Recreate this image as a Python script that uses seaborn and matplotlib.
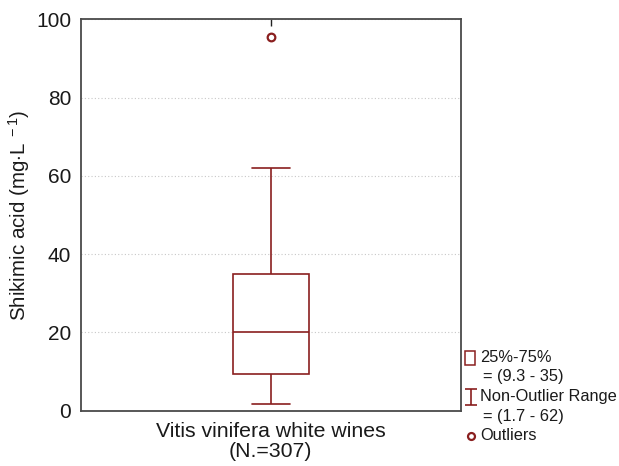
import numpy as np
import pandas as pd
import seaborn as sns
import matplotlib.pyplot as plt
from matplotlib.lines import Line2D
from matplotlib.patches import Rectangle
from matplotlib.path import Path

# Summary statistics of shikimic acid in white wines (mg/L)
group = "Vitis vinifera white wines\n(N.=307)"
whisker_low = 1.7
q1 = 9.3
median = 20.0
q3 = 35.0
whisker_high = 62.0
outliers = [95.5]

# Minimal sample reproducing the summary: sorted values whose
# quartiles fall exactly on q1 / median / q3
values = [whisker_low, q1, q1, median, median, q3, q3, whisker_high] + outliers
df = pd.DataFrame({"group": [group] * len(values), "value": values})

sns.set_theme(style="white")
plt.rcParams["font.family"] = ["Liberation Sans", "DejaVu Sans"]
plt.rcParams["mathtext.fontset"] = "custom"
plt.rcParams["mathtext.rm"] = "Liberation Sans"
plt.rcParams["mathtext.it"] = "Liberation Sans"

RED = "#8a1f1f"
FRAME = "#4a4a4a"
TEXT = "#1a1a1a"

fig = plt.figure(figsize=(6.19, 4.66), dpi=100)
ax = fig.add_axes([0.1309, 0.1187, 0.6134, 0.8399])

sns.boxplot(
    data=df, x="group", y="value", ax=ax, width=0.2,
    color="white", linecolor=RED, linewidth=1.2,
    whis=1.5,
    flierprops=dict(marker="o", markersize=5.5, markerfacecolor="none",
                    markeredgecolor=RED, markeredgewidth=1.6),
)

ax.set_xlim(-0.5, 0.5)
ax.set_ylim(0, 100)
ax.set_yticks([0, 20, 40, 60, 80, 100])
ax.yaxis.grid(True, linestyle=(0, (1, 2)), color="#c8c8c8", linewidth=0.8)
ax.set_axisbelow(True)

ax.set_xlabel("")
ax.set_ylabel(r"Shikimic acid (mg$\cdot$L$^{\ -1}$)", fontsize=14.8,
              labelpad=3, color=TEXT)
ax.tick_params(axis="y", length=0, labelsize=15, pad=7, labelcolor=TEXT)
ax.tick_params(axis="x", which="major", bottom=False, top=True,
               labelbottom=True, labeltop=False, direction="in", length=5,
               width=1.0, color="#222222", labelsize=15.3, pad=8,
               labelcolor=TEXT)
for lab in ax.get_xticklabels():
    lab.set_multialignment("center")
    lab.set_linespacing(1.1)

for s in ax.spines.values():
    s.set_visible(True)
    s.set_color(FRAME)
    s.set_linewidth(1.3)

# Key describing the box elements, placed to the right of the plot
W, H = fig.get_size_inches() * fig.dpi

def fx(px):
    return px / W

def fy(py):
    return 1 - py / H

ibeam = Path([(-0.5, -0.7), (0.5, -0.7), (0, -0.7), (0, 0.7), (-0.5, 0.7), (0.5, 0.7)],
             [Path.MOVETO, Path.LINETO, Path.MOVETO, Path.LINETO,
              Path.MOVETO, Path.LINETO])

fig.add_artist(Rectangle((fx(465), fy(365)), fx(10), 14 / H,
                         facecolor="none", edgecolor=RED, linewidth=1.1))
fig.add_artist(Line2D([fx(471)], [fy(397)], marker=ibeam, markersize=12,
                      markerfacecolor="none", markeredgecolor=RED,
                      markeredgewidth=1.2))
fig.add_artist(Line2D([fx(470.5)], [fy(436)], marker="o", markersize=5,
                      markerfacecolor="none", markeredgecolor=RED,
                      markeredgewidth=1.6))

key_font = dict(fontsize=11.8, va="center", ha="left", color=TEXT)
fig.text(fx(480), fy(357), "25%-75%", **key_font)
fig.text(fx(483), fy(376), f"= ({q1:g} - {q3:g})", **key_font)
fig.text(fx(480), fy(397), "Non-Outlier Range", **key_font)
fig.text(fx(483), fy(416), f"= ({whisker_low:g} - {whisker_high:g})", **key_font)
fig.text(fx(480), fy(436), "Outliers", **key_font)

fig.savefig("out.png", dpi=100, facecolor="white")
